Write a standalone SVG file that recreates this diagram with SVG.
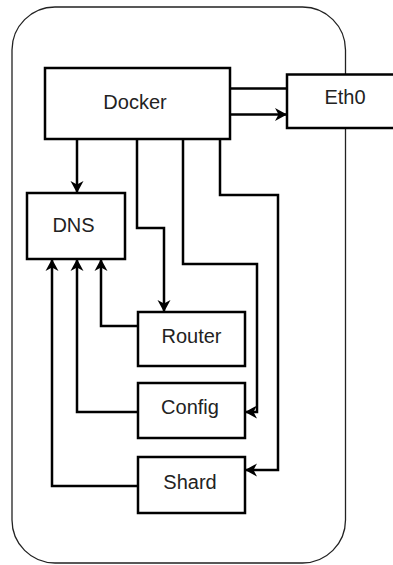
<svg xmlns="http://www.w3.org/2000/svg" width="393" height="565" viewBox="0 0 393 565">
<style>
.box{fill:#fff;stroke:#000;stroke-width:2.5}
.lbl{font-family:"Liberation Sans",Arial,sans-serif;font-size:20px;fill:#222;text-anchor:middle}
.c{fill:none;stroke:#000;stroke-width:2.5}
</style>
<defs>
<marker id="ah" markerUnits="userSpaceOnUse" markerWidth="13" markerHeight="14" refX="12" refY="7" orient="auto" viewBox="0 0 13 14">
<path d="M0,0.5 L12,7 L0,13.5 L3.5,7 Z" fill="#000"/>
</marker>
</defs>
<rect id="container" x="12" y="7" width="333.5" height="556" rx="43" ry="43" fill="none" stroke="#222" stroke-width="1.3"/>
<g id="connectors">
<path class="c" d="M230,88.5 H287"/>
<path class="c" d="M230,114.5 H287" marker-end="url(#ah)"/>
<path class="c" d="M77,139 V193" marker-end="url(#ah)"/>
<path class="c" d="M137,139 V228 H164 V312" marker-end="url(#ah)"/>
<path class="c" d="M183,139 V264 H257 V412 H245" marker-end="url(#ah)"/>
<path class="c" d="M220,139 V195 H278 V470 H245" marker-end="url(#ah)"/>
<path class="c" d="M138,326 H101 V259" marker-end="url(#ah)"/>
<path class="c" d="M138,412 H77 V259" marker-end="url(#ah)"/>
<path class="c" d="M138,486 H52 V259" marker-end="url(#ah)"/>
</g>
<g id="docker"><rect class="box" x="45" y="68" width="185" height="71"/><text class="lbl" x="135" y="109">Docker</text></g>
<g id="eth0"><rect class="box" x="287" y="74.5" width="120" height="53.5"/><text class="lbl" x="345" y="104">Eth0</text></g>
<g id="dns"><rect class="box" x="27" y="193" width="98" height="66"/><text class="lbl" x="73.5" y="232">DNS</text></g>
<g id="router"><rect class="box" x="138" y="312" width="107" height="54"/><text class="lbl" x="191.5" y="343">Router</text></g>
<g id="config"><rect class="box" x="138" y="383" width="107" height="55"/><text class="lbl" x="190" y="414">Config</text></g>
<g id="shard"><rect class="box" x="138" y="457" width="107" height="56"/><text class="lbl" x="190" y="489">Shard</text></g>
</svg>
